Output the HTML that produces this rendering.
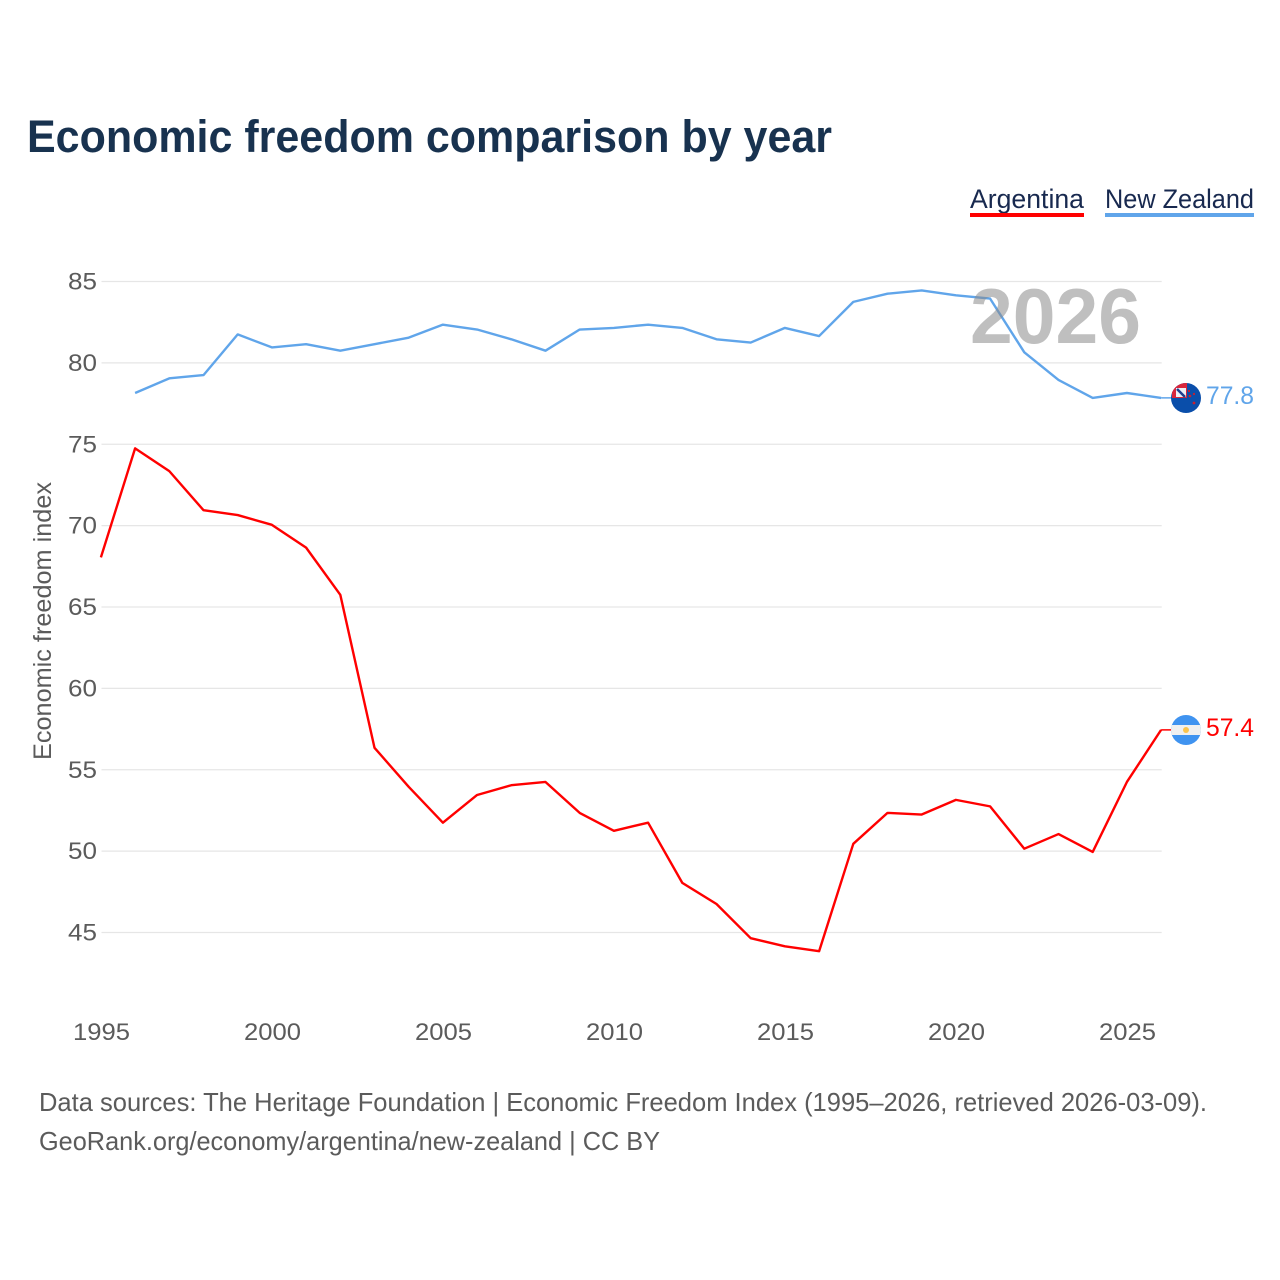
<!DOCTYPE html>
<html lang="en">
<head>
<meta charset="utf-8">
<title>Economic freedom comparison by year</title>
<style>
html,body{margin:0;padding:0;background:#fff;width:1280px;height:1280px;overflow:hidden}
svg{display:block}
text{font-family:"Liberation Sans",sans-serif}
</style>
</head>
<body>
<svg id="chart" xmlns="http://www.w3.org/2000/svg" width="1280" height="1280" viewBox="0 0 1280 1280">
  <rect x="0" y="0" width="1280" height="1280" fill="#fff"/>
  <text x="27" y="152" font-size="45" font-weight="700" fill="#18324f" textLength="805" lengthAdjust="spacingAndGlyphs">Economic freedom comparison by year</text>

  <g>
    <text x="970" y="208" font-size="27" fill="#18294f" textLength="114" lengthAdjust="spacingAndGlyphs">Argentina</text>
    <rect x="970" y="213" width="114" height="4" fill="#ff0000"/>
    <text x="1105" y="208" font-size="27" fill="#18294f" textLength="149" lengthAdjust="spacingAndGlyphs">New Zealand</text>
    <rect x="1105" y="213" width="149" height="4" fill="#60a5ea"/>
  </g>

  <g id="grid"></g>
  <g id="yTicks"></g>
  <g id="xTicks"></g>
  <text transform="translate(51,760) rotate(-90)" x="0" y="0" font-size="25" fill="#5b5b5b" textLength="278" lengthAdjust="spacingAndGlyphs">Economic freedom index</text>

  <g id="series" transform="translate(-0.6,-0.8)"></g>

  <text x="970" y="343" font-size="78" font-weight="700" fill="#8a8a8a" fill-opacity="0.55" textLength="171" lengthAdjust="spacingAndGlyphs">2026</text>

  <defs>
    <clipPath id="nzClip"><circle cx="1186" cy="398" r="15"/></clipPath>
    <clipPath id="arClip"><circle cx="1186" cy="730" r="15"/></clipPath>
  </defs>

  <g id="nzFlag" clip-path="url(#nzClip)">
    <rect x="1171" y="383" width="30" height="30" fill="#0a4eaa"/>
    <rect x="1172" y="383" width="15" height="15" fill="#d8263c"/>
    <rect x="1176" y="388" width="10" height="9" fill="#eef0f6"/>
    <path d="M1177 389 L1185 397" stroke="#1f3f8f" stroke-width="2.5"/>
    <circle cx="1190" cy="396" r="1.3" fill="#c8202f"/>
    <circle cx="1194" cy="394" r="1.1" fill="#c8202f"/>
    <circle cx="1189" cy="391" r="1.1" fill="#c8202f"/>
    <circle cx="1194" cy="403" r="1.4" fill="#c8202f"/>
  </g>
  <g id="arFlag" clip-path="url(#arClip)">
    <rect x="1171" y="715" width="30" height="30" fill="#3f93f0"/>
    <rect x="1171" y="725" width="30" height="10" fill="#f0f0f0"/>
    <circle cx="1186" cy="730" r="3" fill="#fbc44e"/>
  </g>

  <text x="1206" y="404" font-size="25" fill="#60a5ea" textLength="48" lengthAdjust="spacingAndGlyphs">77.8</text>
  <text x="1206" y="736" font-size="25" fill="#ff0000" textLength="48" lengthAdjust="spacingAndGlyphs">57.4</text>

  <text x="39" y="1111" font-size="26" fill="#5b5b5b" textLength="1168" lengthAdjust="spacingAndGlyphs">Data sources: The Heritage Foundation | Economic Freedom Index (1995–2026, retrieved 2026-03-09).</text>
  <text x="39" y="1150" font-size="26" fill="#5b5b5b" textLength="621" lengthAdjust="spacingAndGlyphs">GeoRank.org/economy/argentina/new-zealand | CC BY</text>
</svg>
<script>
const years = [1995,1996,1997,1998,1999,2000,2001,2002,2003,2004,2005,2006,2007,2008,2009,2010,2011,2012,2013,2014,2015,2016,2017,2018,2019,2020,2021,2022,2023,2024,2025,2026];
const argentina = [68.0,74.7,73.3,70.9,70.6,70.0,68.6,65.7,56.3,53.9,51.7,53.4,54.0,54.2,52.3,51.2,51.7,48.0,46.7,44.6,44.1,43.8,50.4,52.3,52.2,53.1,52.7,50.1,51.0,49.9,54.2,57.4];
const newZealand = [null,78.1,79.0,79.2,81.7,80.9,81.1,80.7,81.1,81.5,82.3,82.0,81.4,80.7,82.0,82.1,82.3,82.1,81.4,81.2,82.1,81.6,83.7,84.2,84.4,84.1,83.9,80.6,78.9,77.8,78.1,77.8];
const yTickValues = [45,50,55,60,65,70,75,80,85];
const xTickValues = [1995,2000,2005,2010,2015,2020,2025];

const NS = 'http://www.w3.org/2000/svg';
function xScale(year){ return 101.5 + (year - 1995) * (1161.7 - 101.5) / 31; }
function yScale(value){ return 932.5 - (value - 45) * (932.5 - 281.5) / 40; }
function make(tag, attrs, parent){
  const el = document.createElementNS(NS, tag);
  for (const k in attrs) el.setAttribute(k, attrs[k]);
  parent.appendChild(el);
  return el;
}
const grid = document.getElementById('grid');
const yTicks = document.getElementById('yTicks');
const xTicks = document.getElementById('xTicks');
const series = document.getElementById('series');

yTickValues.forEach(function(v){
  const line = make('line', {x1:101.5, x2:1161.7, y1:yScale(v), y2:yScale(v), stroke:'#e6e6e6', 'stroke-width':1.2}, grid);
  
  
  const label = make('text', {x:68, y:yScale(v) + 8, 'font-size':24.5, fill:'#5b5b5b', textLength:29, lengthAdjust:'spacingAndGlyphs'}, yTicks);
  label.textContent = v;
  
  
});
xTickValues.forEach(function(v){
  const label = make('text', {x:xScale(v), y:1040, 'text-anchor':'middle', 'font-size':24.5, fill:'#5b5b5b', textLength:57, lengthAdjust:'spacingAndGlyphs'}, xTicks);
  label.textContent = v;
  
  
});
function drawSeries(values, color, name){
  let d = '';
  let last = null;
  values.forEach(function(v, i){
    if (v === null) return;
    d += (d ? ' L' : 'M') + xScale(years[i]).toFixed(2) + ' ' + yScale(v).toFixed(2);
    last = yScale(v);
  });
  const path = make('path', {d:d, fill:'none', stroke:color, 'stroke-width':2.4, 'stroke-linejoin':'round'}, series);
  
  
  const conn = make('line', {x1:1161.7, x2:1172, y1:last, y2:last, stroke:color, 'stroke-width':1.5}, series);
  
  
}
drawSeries(newZealand, '#60a5ea', 'new-zealand');
drawSeries(argentina, '#ff0000', 'argentina');
</script>
</body>
</html>
